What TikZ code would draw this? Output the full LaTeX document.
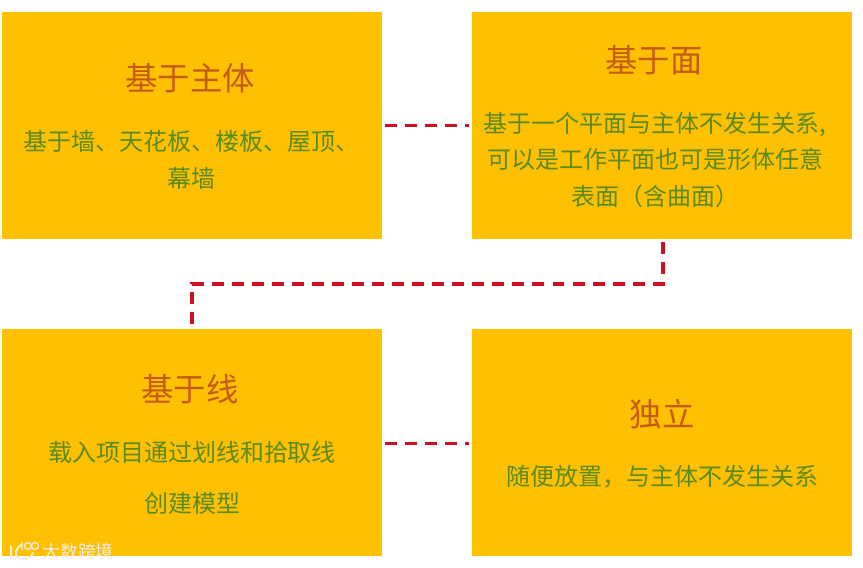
\documentclass[tikz,border=0pt]{standalone}
\usepackage{fontspec}
\setmainfont{Noto Sans CJK SC}
\definecolor{boxfill}{HTML}{FFC000}
\definecolor{titlecol}{HTML}{C55A11}
\definecolor{bodycol}{HTML}{5B8A1E}
\definecolor{linkcol}{HTML}{D01020}
\definecolor{markcol}{HTML}{EFEDE6}
\tikzset{
	infobox/.style = {fill = boxfill, minimum width = 7.6cm, minimum height = 4.54cm, inner sep = 0},
	titletext/.style = {text = titlecol, font = \fontsize{18.4}{22}\selectfont, inner sep = 0},
	bodytext/.style = {text = bodycol, align = center, inner sep = 0, font = \fontsize{13.66}{21}\selectfont},
	widetext/.style = {bodytext, font = \fontsize{13.66}{29}\selectfont},
	linkline/.style = {draw = linkcol, line width = 2pt, dash pattern = on 6.8pt off 4.6pt, shorten > = 0.06cm, shorten < = 0.06cm},
	marktext/.style = {text = markcol, font = \fontsize{10.2}{12}\selectfont, inner sep = 0}
}
\begin{document}
\begin{tikzpicture}[x = 0.02cm, y = -0.02cm]
	\useasboundingbox (0,0) rectangle (863,568);
	% the four boxes
	\node [infobox] (host) at (192,125.5) {};
	\node [infobox] (face) at (662,125.5) {};
	\node [infobox] (curve) at (192,442.5) {};
	\node [infobox] (free) at (662,442.5) {};
	
	\node [titletext] (hosttitle) at (190,78) {基于主体};
	\node [bodytext] (hostbody) at (192,160) {基于墙、天花板、楼板、屋顶、\\幕墙};
	\node [titletext] (facetitle) at (654,60) {基于面};
	\node [bodytext] (facebody) at (655,160) {基于一个平面与主体不发生关系,\\可以是工作平面也可是形体任意\\表面（含曲面）};
	\node [titletext] (curvetitle) at (190,389) {基于线};
	\node [widetext] (curvebody) at (192,478) {载入项目通过划线和拾取线\\创建模型};
	\node [titletext] (freetitle) at (662,414) {独立};
	\node [bodytext] (freebody) at (662,477) {随便放置，与主体不发生关系};
	
	% dashed links
	\coordinate (bendface) at (663,284);
	\coordinate (bendcurve) at (192,284);
	\draw [linkline] (host.east) -- (face.west);
	\draw [linkline] (face.south -| bendface) -- (bendface) -- (bendcurve) -- (curve.north);
	\draw [linkline, transform canvas = {yshift = -0.02cm}] (curve.east) -- (free.west);
	
	% watermark in the corner
	\draw [markcol, line width = 1.1pt, line cap = round] (11,546) -- (11,559) (21,545) .. controls (13,550) and (14,561) .. (26,559) .. controls (30,558) and (32,556) .. (33,553);
	\draw [markcol, line width = 0.7pt] (22,542) -- (22,550) (28,546) circle (3.5) (35,546) circle (3.5);
	\node [marktext] (marklabel) at (78,552) {大数跨境};
\end{tikzpicture}
\end{document}
